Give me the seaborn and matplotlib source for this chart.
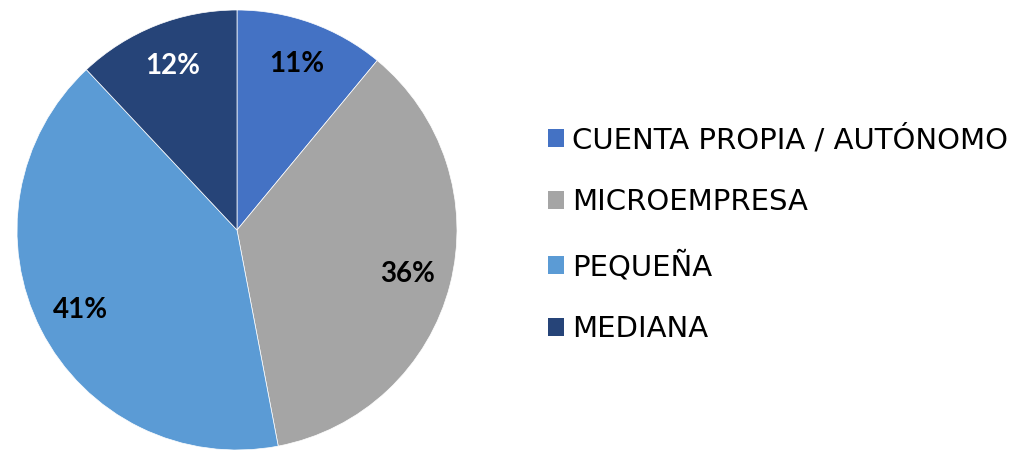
import seaborn as sns
import matplotlib.pyplot as plt
from matplotlib.patches import Patch

categories = ['CUENTA PROPIA / AUTÓNOMO', 'MICROEMPRESA', 'PEQUEÑA', 'MEDIANA']
shares = [11, 36, 41, 12]
colors = ['#4472C4', '#A5A5A5', '#5B9BD5', '#264478']
label_colors = ['black', 'black', 'black', 'white']

sns.set_theme(style='white')
plt.rcParams['font.family'] = ['DejaVu Sans']

fig = plt.figure(figsize=(10.31, 4.5), dpi=100)
# pie centred at (237, 230) px with radius ~220 px
ax = fig.add_axes([(237 - 220) / 1031, 1 - (230 + 220) / 450, 440 / 1031, 440 / 450])

wedges, texts, autotexts = ax.pie(
    shares, colors=colors, startangle=90, counterclock=False,
    autopct='%1.0f%%', pctdistance=0.8,
    wedgeprops=dict(edgecolor='white', linewidth=0.5),
)
for t, c in zip(autotexts, label_colors):
    t.set_color(c)
    t.set_fontsize(20)
    t.set_fontweight('bold')
    t.set_family('Lato')
ax.set_aspect('equal')
ax.set_xlim(-1, 1)
ax.set_ylim(-1, 1)
ax.axis('off')

handles = [Patch(facecolor=c, edgecolor='none') for c in colors]
leg = fig.legend(handles, categories, loc='center left', bbox_to_anchor=(522 / 1031, 0.48),
                 frameon=False, fontsize=21, handlelength=0.55, handleheight=0.55,
                 handletextpad=0.28, labelspacing=1.17)
for t in leg.get_texts():
    t.set_color('black')

fig.savefig('out.png', dpi=100)
plt.close('all')
